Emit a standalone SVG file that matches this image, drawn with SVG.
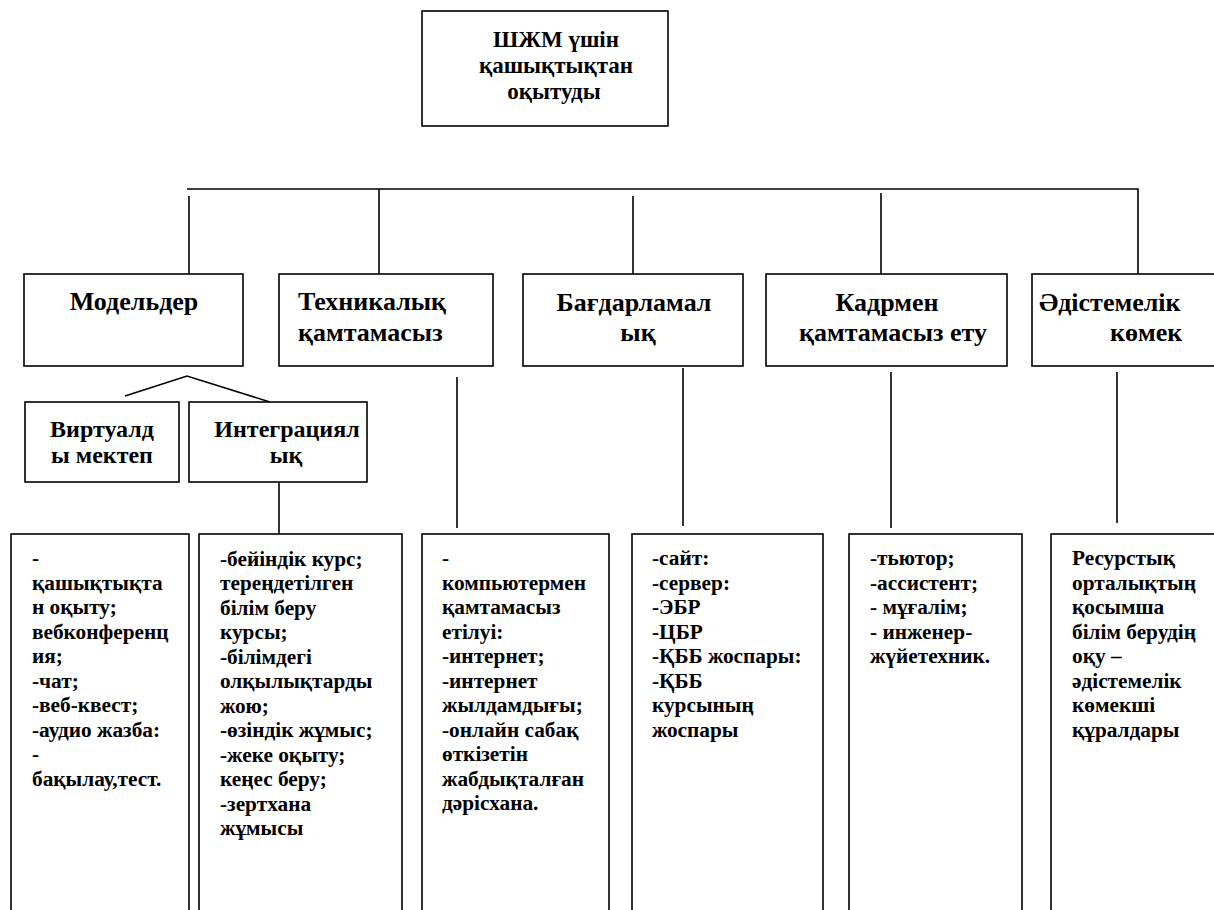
<svg xmlns="http://www.w3.org/2000/svg" width="1214" height="910" viewBox="0 0 1214 910">
<style>
.box{fill:#fff;stroke:#000;stroke-width:1.6}
.ln{fill:none;stroke:#000;stroke-width:1.6}
text{font-family:'Liberation Serif','Times New Roman',serif;font-weight:700;fill:#000}
.h{font-size:26px}
.r{font-size:23px}
.m{font-size:24px}
.t{font-size:21.3px}
</style>
<rect width="1214" height="910" fill="#fff"/>
<g id="connectors">
<path class="ln" d="M187 189H1138V274"/>
<path class="ln" d="M189 196V274"/>
<path class="ln" d="M379 189V274"/>
<path class="ln" d="M633 196V274"/>
<path class="ln" d="M881 193V274"/>
<path class="ln" d="M125 396L187 376L270 402"/>
<path class="ln" d="M279 482V534"/>
<path class="ln" d="M457 377V528"/>
<path class="ln" d="M683 368V526"/>
<path class="ln" d="M891 372V528"/>
<path class="ln" d="M1117 372V523"/>
</g>
<g id="root">
<rect class="box" x="422" y="11" width="246" height="115"/>
<text class="r" text-anchor="middle"><tspan x="556" y="47">ШЖМ үшін</tspan><tspan x="556" y="73">қашықтықтан</tspan><tspan x="554" y="99">оқытуды</tspan></text>
</g>
<g id="models">
<rect class="box" x="24" y="274" width="219" height="92"/>
<text class="h" text-anchor="middle" x="134" y="310">Модельдер</text>
</g>
<g id="technical">
<rect class="box" x="279" y="274" width="214" height="92"/>
<text class="h"><tspan x="298" y="310">Техникалық</tspan><tspan x="298" y="341">қамтамасыз</tspan></text>
</g>
<g id="software">
<rect class="box" x="523" y="274" width="220" height="92"/>
<text class="h" text-anchor="middle"><tspan x="634" y="311">Бағдарламал</tspan><tspan x="638" y="341">ық</tspan></text>
</g>
<g id="staff">
<rect class="box" x="766" y="274" width="241" height="92"/>
<text class="h" text-anchor="middle"><tspan x="887" y="311">Кадрмен</tspan><tspan x="893" y="341">қамтамасыз ету</tspan></text>
</g>
<g id="methodical">
<rect class="box" x="1032" y="274" width="190" height="92"/>
<text class="h"><tspan x="1039" y="311">Әдістемелік</tspan><tspan x="1110" y="341">көмек</tspan></text>
</g>
<g id="virtual">
<rect class="box" x="25" y="402" width="154" height="80"/>
<text class="m" text-anchor="middle"><tspan x="102" y="437">Виртуалд</tspan><tspan x="102" y="463">ы мектеп</tspan></text>
</g>
<g id="integration">
<rect class="box" x="189" y="402" width="178" height="80"/>
<text class="m" text-anchor="middle"><tspan x="287" y="437">Интеграциял</tspan><tspan x="286" y="463">ық</tspan></text>
</g>
<g id="list-virtual">
<rect class="box" x="11" y="534" width="178" height="400"/>
<text class="t"><tspan x="32" y="565">-</tspan><tspan x="32" y="590">қашықтықта</tspan><tspan x="32" y="614">н оқыту;</tspan><tspan x="32" y="639">вебконференц</tspan><tspan x="32" y="663">ия;</tspan><tspan x="32" y="688">-чат;</tspan><tspan x="32" y="712">-веб-квест;</tspan><tspan x="32" y="737">-аудио жазба:</tspan><tspan x="32" y="761">-</tspan><tspan x="32" y="786">бақылау,тест.</tspan></text>
</g>
<g id="list-integration">
<rect class="box" x="199" y="534" width="203" height="400"/>
<text class="t"><tspan x="220" y="566">-бейіндік курс;</tspan><tspan x="220" y="590">тереңдетілген</tspan><tspan x="220" y="615">білім беру</tspan><tspan x="220" y="639">курсы;</tspan><tspan x="220" y="664">-білімдегі</tspan><tspan x="220" y="688">олқылықтарды</tspan><tspan x="220" y="713">жою;</tspan><tspan x="220" y="737">-өзіндік жұмыс;</tspan><tspan x="220" y="762">-жеке оқыту;</tspan><tspan x="220" y="786">кеңес беру;</tspan><tspan x="220" y="811">-зертхана</tspan><tspan x="220" y="835">жұмысы</tspan></text>
</g>
<g id="list-technical">
<rect class="box" x="422" y="534" width="187" height="400"/>
<text class="t"><tspan x="442" y="565">-</tspan><tspan x="442" y="590">компьютермен</tspan><tspan x="442" y="614">қамтамасыз</tspan><tspan x="442" y="639">етілуі:</tspan><tspan x="442" y="663">-интернет;</tspan><tspan x="442" y="688">-интернет</tspan><tspan x="442" y="712">жылдамдығы;</tspan><tspan x="442" y="737">-онлайн сабақ</tspan><tspan x="442" y="761">өткізетін</tspan><tspan x="442" y="786">жабдықталған</tspan><tspan x="442" y="810">дәрісхана.</tspan></text>
</g>
<g id="list-software">
<rect class="box" x="632" y="534" width="191" height="400"/>
<text class="t"><tspan x="652" y="565">-сайт:</tspan><tspan x="652" y="590">-сервер:</tspan><tspan x="652" y="614">-ЭБР</tspan><tspan x="652" y="639">-ЦБР</tspan><tspan x="652" y="663">-ҚББ жоспары:</tspan><tspan x="652" y="688">-ҚББ</tspan><tspan x="652" y="712">курсының</tspan><tspan x="652" y="737">жоспары</tspan></text>
</g>
<g id="list-staff">
<rect class="box" x="849" y="534" width="173" height="400"/>
<text class="t"><tspan x="870" y="565">-тьютор;</tspan><tspan x="870" y="590">-ассистент;</tspan><tspan x="870" y="614">- мұғалім;</tspan><tspan x="870" y="639">- инженер-</tspan><tspan x="870" y="663">жүйетехник.</tspan></text>
</g>
<g id="list-methodical">
<rect class="box" x="1051" y="534" width="175" height="400"/>
<text class="t"><tspan x="1072" y="565">Ресурстық</tspan><tspan x="1072" y="590">орталықтың</tspan><tspan x="1072" y="614">қосымша</tspan><tspan x="1072" y="639">білім берудің</tspan><tspan x="1072" y="663">оқу –</tspan><tspan x="1072" y="688">әдістемелік</tspan><tspan x="1072" y="712">көмекші</tspan><tspan x="1072" y="737">құралдары</tspan></text>
</g>
</svg>
